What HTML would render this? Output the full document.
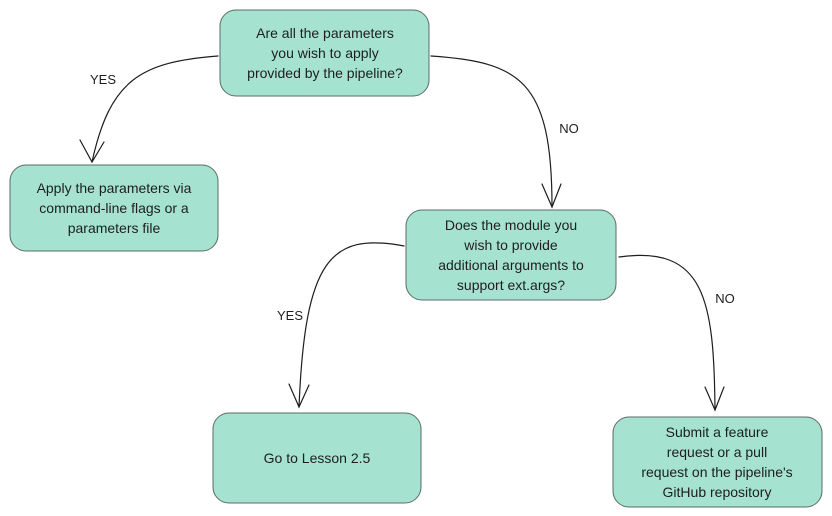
<!DOCTYPE html>
<html><head><meta charset="utf-8"><style>
html,body{margin:0;padding:0;background:#fff;}
svg{display:block}
text{font-family:"Liberation Sans",sans-serif;font-size:14px;fill:#1e1e1e;text-anchor:middle}
.lbl{font-size:13px}
</style></head><body>
<svg width="832" height="516" viewBox="0 0 832 516" xmlns="http://www.w3.org/2000/svg">
<g fill="#a5e3d0" stroke="#5a6b66" stroke-width="1">
<rect x="220" y="10" width="209" height="86" rx="16"/>
<rect x="10" y="165" width="208" height="86" rx="16"/>
<rect x="406" y="210" width="210" height="90" rx="16"/>
<rect x="213" y="413" width="208" height="90" rx="16"/>
<rect x="613" y="417" width="209" height="90" rx="16"/>
</g>
<g fill="none" stroke="#1e1e1e" stroke-width="1.2" stroke-linecap="round">
<path d="M218 56 C140 62 110 80 92 162"/>
<path d="M80 140 L92 162 L104 142"/>
<path d="M431 56 C520 62 552 80 552 207"/>
<path d="M542 184 L552 207 L561 184"/>
<path d="M404 246 C330 232 305 260 299 407"/>
<path d="M289 384 L299 407 L309 385"/>
<path d="M619 257 C705 245 714 300 715 410"/>
<path d="M705 387 L715 410 L724 387"/>
</g>
<text x="325" y="38">Are all the parameters</text>
<text x="325" y="58">you wish to apply</text>
<text x="325" y="78">provided by the pipeline?</text>
<text x="114" y="193">Apply the parameters via</text>
<text x="114" y="213">command-line flags or a</text>
<text x="114" y="233">parameters file</text>
<text x="511" y="230">Does the module you</text>
<text x="511" y="250">wish to provide</text>
<text x="511" y="270">additional arguments to</text>
<text x="511" y="290">support ext.args?</text>
<text x="317" y="463">Go to Lesson 2.5</text>
<text x="717" y="437">Submit a feature</text>
<text x="717" y="457">request or a pull</text>
<text x="717" y="477">request on the pipeline's</text>
<text x="717" y="497">GitHub repository</text>
<text class="lbl" x="103" y="84">YES</text>
<text class="lbl" x="569" y="133">NO</text>
<text class="lbl" x="290" y="320">YES</text>
<text class="lbl" x="725" y="303">NO</text>
</svg>
</body></html>
